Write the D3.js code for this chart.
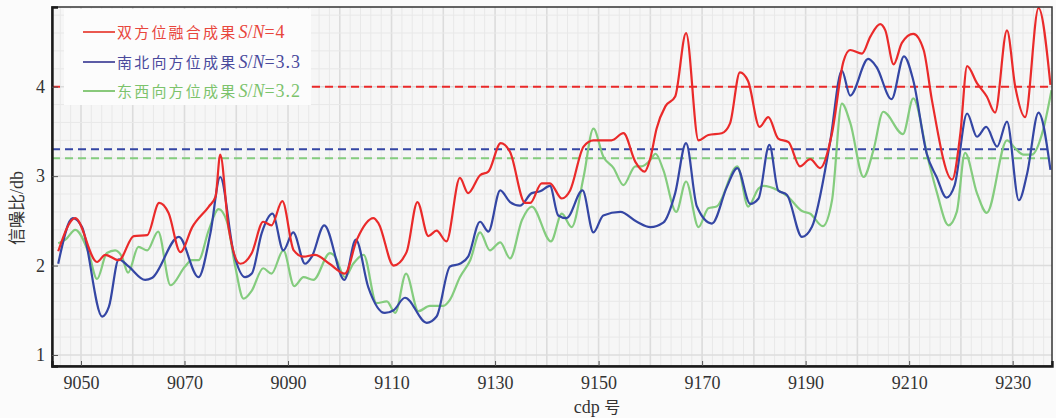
<!DOCTYPE html>
<html>
<head>
<meta charset="utf-8">
<script src="https://cdn.jsdelivr.net/npm/d3@7"></script>
<style>
  html, body { margin: 0; padding: 0; background: #fbfbfb; }
  svg { display: block; }
</style>
</head>
<body>
<svg id="chart" width="1056" height="418"></svg>
<script>
// Signal-to-noise ratio along the cdp line, three processing results
const redCdp = [9045.6,9048.9,9053.1,9054.7,9057.3,9060.2,9062.8,9065.1,9066.9,9069.2,9071.5,9074.7,9076.0,9076.9,9078.5,9080.8,9083.0,9085.2,9086.8,9088.9,9091.1,9093.0,9095.2,9098.0,9101.0,9103.3,9106.5,9107.5,9110.4,9112.9,9115.0,9117.1,9118.7,9120.6,9123.2,9124.8,9127.1,9128.7,9131.1,9132.9,9135.8,9136.8,9139.0,9140.6,9142.9,9144.5,9147.1,9149.0,9152.5,9154.8,9157.1,9158.9,9160.0,9161.2,9162.9,9164.8,9166.9,9169.3,9171.2,9173.8,9175.4,9177.3,9178.9,9181.1,9182.8,9184.7,9186.7,9188.9,9190.9,9192.8,9195.1,9197.3,9198.6,9200.9,9202.5,9204.4,9205.4,9207.0,9208.6,9210.8,9212.8,9214.4,9218.3,9219.9,9221.2,9223.1,9225.0,9226.6,9228.9,9230.5,9232.4,9235.0,9237.3];
const redSN = [2.16,2.53,2.04,2.12,2.06,2.33,2.34,2.70,2.59,2.15,2.43,2.66,2.77,3.24,2.43,2.02,2.14,2.49,2.45,2.72,2.17,2.10,2.12,2.02,1.91,2.29,2.53,2.47,2.00,2.15,2.71,2.33,2.39,2.27,2.98,2.81,3.01,3.05,3.37,3.27,2.70,2.70,2.92,2.92,2.75,2.84,3.33,3.40,3.40,3.48,3.16,3.05,3.20,3.53,3.78,3.89,4.60,3.40,3.46,3.48,3.59,4.16,4.06,3.55,3.66,3.42,3.38,3.11,3.19,3.09,3.48,4.28,4.41,4.37,4.56,4.70,4.63,4.25,4.49,4.59,4.41,3.85,2.96,3.48,4.23,4.04,3.89,3.71,4.63,4.00,3.66,4.88,4.02];

const blueCdp = [9045.6,9048.4,9050.2,9054.1,9055.4,9057.3,9059.2,9062.4,9063.7,9068.9,9072.7,9075.0,9076.9,9079.5,9081.7,9083.0,9084.9,9087.0,9089.1,9091.0,9093.3,9094.6,9097.0,9100.9,9103.1,9105.5,9108.7,9110.4,9112.6,9116.8,9118.7,9121.3,9123.2,9124.8,9127.1,9128.7,9131.0,9132.9,9134.8,9137.1,9138.7,9140.6,9142.2,9143.8,9146.9,9149.0,9150.9,9154.2,9157.4,9160.0,9162.5,9164.8,9166.9,9169.0,9171.9,9174.8,9176.8,9179.3,9180.9,9183.0,9184.7,9186.4,9189.3,9191.2,9194.7,9197.0,9198.6,9202.1,9203.7,9206.6,9209.0,9210.8,9213.4,9215.3,9217.2,9218.8,9221.2,9223.1,9224.9,9227.0,9228.9,9231.2,9232.8,9235.0,9237.3];
const blueSN = [2.02,2.53,2.43,1.43,1.54,2.07,1.99,1.84,1.86,2.32,1.87,2.36,2.99,2.14,1.87,1.91,2.36,2.58,2.17,2.37,2.02,2.10,2.45,1.84,2.29,1.76,1.47,1.50,1.64,1.36,1.43,1.99,2.02,2.10,2.49,2.38,2.84,2.71,2.67,2.81,2.83,2.89,2.56,2.53,2.84,2.37,2.56,2.60,2.49,2.43,2.48,2.81,3.37,2.66,2.47,2.88,3.09,2.69,2.75,3.35,2.84,2.79,2.32,2.43,3.37,4.18,3.90,4.31,4.22,3.86,4.34,4.07,3.25,2.99,2.76,2.90,3.70,3.44,3.55,3.33,3.61,2.73,3.03,3.71,3.07];

const greenCdp = [9045.6,9047.0,9048.9,9051.5,9053.1,9055.0,9056.6,9057.9,9059.1,9061.1,9062.8,9064.9,9067.3,9070.1,9071.4,9072.7,9074.7,9076.6,9078.2,9079.8,9081.4,9083.0,9085.2,9086.8,9089.1,9091.2,9093.0,9094.9,9098.1,9099.1,9101.0,9102.6,9104.6,9107.1,9109.1,9110.7,9112.8,9115.2,9117.4,9120.0,9121.3,9123.2,9125.2,9127.1,9129.0,9131.0,9132.9,9135.2,9137.1,9140.8,9142.9,9144.8,9147.1,9149.0,9150.9,9152.9,9154.8,9157.1,9158.3,9160.0,9161.0,9162.5,9165.0,9166.9,9169.3,9171.2,9172.8,9176.8,9178.9,9180.9,9181.8,9184.7,9186.4,9189.3,9190.9,9193.3,9195.1,9197.0,9198.6,9201.2,9203.1,9205.0,9208.8,9210.8,9213.7,9215.3,9217.6,9219.2,9220.8,9223.1,9225.0,9228.9,9230.5,9232.1,9233.7,9235.9,9237.5];
const greenSN = [2.25,2.29,2.40,2.14,1.85,2.14,2.17,2.10,1.92,2.21,2.17,2.38,1.78,1.99,2.06,2.06,2.40,2.63,2.49,1.99,1.63,1.72,1.97,1.91,2.17,1.77,1.87,1.84,2.14,2.10,1.87,2.02,2.12,1.58,1.60,1.47,1.91,1.49,1.55,1.55,1.62,1.87,2.06,2.37,2.17,2.26,2.08,2.51,2.66,2.27,2.58,2.43,2.99,3.53,3.22,3.09,2.90,3.11,3.11,3.18,3.25,3.07,2.60,2.94,2.43,2.64,2.66,3.11,2.66,2.86,2.89,2.84,2.78,2.61,2.58,2.44,2.73,3.81,3.60,2.99,3.29,3.72,3.47,3.87,3.18,2.83,2.45,2.60,3.26,2.81,2.59,3.40,3.31,3.24,3.24,3.52,3.96];

// Mean S/N of each result, shown as dashed reference lines
const meanSN = [4, 3.3, 3.2];
const seriesNames = ["双方位融合成果", "南北向方位成果", "东西向方位成果"];
const meanLabels = ["4", "3.3", "3.2"];
const seriesColors = ["#ea2a2a", "#3446a4", "#84cc7e"];
const legendColors = ["#e8463c", "#4a4a9c", "#7cc36c"];

const xTicks = [9050, 9070, 9090, 9110, 9130, 9150, 9170, 9190, 9210, 9230];
const yTicks = [1, 2, 3, 4];

const W = 1056, H = 418;
const margin = { left: 52, top: 7, right: 4, bottom: 52 };
const x = d3.scaleLinear().domain([9044.4, 9237.6]).range([margin.left, W - margin.right]);
const y = d3.scaleLinear().domain([0.877, 4.891]).range([H - margin.bottom, margin.top]);

const svg = d3.select("#chart");
const pw = W - margin.left - margin.right, ph = H - margin.top - margin.bottom;

svg.append("defs").append("clipPath").attr("id", "plotClip")
  .append("rect").attr("x", margin.left).attr("y", margin.top).attr("width", pw).attr("height", ph);

// plot background
svg.append("rect").attr("x", margin.left).attr("y", margin.top)
  .attr("width", pw).attr("height", ph).attr("fill", "#f6f6f6");

// grid: fine lines every 2 cdp / 0.2 dB, heavier every 10 cdp / 1 dB
const grid = svg.append("g").attr("clip-path", "url(#plotClip)");
const xMinor = d3.range(9046, 9238, 2);
grid.selectAll(".gx").data(xMinor).join("line")
  .attr("x1", d => x(d)).attr("x2", d => x(d))
  .attr("y1", margin.top).attr("y2", H - margin.bottom)
  .attr("stroke", d => d % 10 === 0 ? "#dcdcdc" : "#e8e8e8")
  .attr("stroke-width", d => d % 10 === 0 ? 1.6 : 1);
const yMinor = d3.range(10, 49, 2).map(v => v / 10);
grid.selectAll(".gy").data(yMinor).join("line")
  .attr("x1", margin.left).attr("x2", W - margin.right)
  .attr("y1", d => y(d)).attr("y2", d => y(d))
  .attr("stroke", d => Math.abs(d - Math.round(d)) < 1e-6 ? "#dcdcdc" : "#e8e8e8")
  .attr("stroke-width", d => Math.abs(d - Math.round(d)) < 1e-6 ? 1.6 : 1);

const plot = svg.append("g").attr("clip-path", "url(#plotClip)");

// dashed mean lines
plot.selectAll(".mean").data(meanSN).join("line")
  .attr("x1", margin.left).attr("x2", W - margin.right)
  .attr("y1", d => y(d)).attr("y2", d => y(d))
  .attr("stroke", (d, i) => seriesColors[i])
  .attr("stroke-width", 2)
  .attr("stroke-dasharray", "8,5");

// legend backdrop (covers grid and dashed lines beneath it)
svg.append("rect").attr("x", 64).attr("y", 9).attr("width", 247).attr("height", 96)
  .attr("fill", "#fcfcfc");

const line = d3.line()
  .x(d => x(d[0])).y(d => y(d[1]))
  .curve(d3.curveMonotoneX);

const series = [
  { c: greenCdp, v: greenSN, color: seriesColors[2] },
  { c: blueCdp, v: blueSN, color: seriesColors[1] },
  { c: redCdp, v: redSN, color: seriesColors[0] }
];
series.forEach(s => {
  plot.append("path")
    .datum(d3.zip(s.c, s.v))
    .attr("d", line)
    .attr("fill", "none")
    .attr("stroke", s.color)
    .attr("stroke-width", 2.2)
    .attr("stroke-linejoin", "round");
});

// frame
svg.append("rect").attr("x", margin.left).attr("y", margin.top)
  .attr("width", pw).attr("height", ph)
  .attr("fill", "none").attr("stroke", "#333").attr("stroke-width", 1.5);

// axes with inward ticks
const xAxis = d3.axisBottom(x).tickValues(xTicks).tickSize(-5).tickPadding(10).tickFormat(d3.format("d"));
const gx = svg.append("g").attr("transform", `translate(0,${H - margin.bottom})`).call(xAxis);
const yAxis = d3.axisLeft(y).tickValues(yTicks).tickSize(-6).tickPadding(7).tickFormat(d3.format("d"));
const gy = svg.append("g").attr("transform", `translate(${margin.left},0)`).call(yAxis);
[gx, gy].forEach(g => {
  g.select(".domain").attr("stroke", "#1a1a1a").attr("stroke-width", 2.4);
  g.selectAll(".tick line").attr("stroke", "#555").attr("stroke-width", 1);
  g.selectAll(".tick text")
    .attr("font-family", "'Liberation Serif', 'DejaVu Serif', serif")
    .attr("font-size", 18).attr("fill", "#333");
});

// axis titles
svg.append("text")
  .attr("x", 597).attr("y", 413)
  .attr("text-anchor", "middle")
  .attr("font-size", 18).attr("fill", "#333")
  .attr("font-family", "'Liberation Serif', serif")
  .text("cdp ")
  .append("tspan").attr("font-family", "'Noto Sans CJK SC', sans-serif").attr("font-size", 16).text("号");

svg.append("text")
  .attr("transform", "translate(23,208) rotate(-90)")
  .attr("text-anchor", "middle")
  .attr("font-size", 17).attr("fill", "#333")
  .attr("font-family", "'Noto Sans CJK SC', sans-serif")
  .text("信噪比")
  .append("tspan").attr("font-family", "'Liberation Serif', serif").attr("font-size", 18).text("/db");

// legend
const legendY = [32, 62, 91];
seriesNames.forEach((name, i) => {
  const g = svg.append("g");
  g.append("line").attr("x1", 83).attr("x2", 115)
    .attr("y1", legendY[i]).attr("y2", legendY[i])
    .attr("stroke", legendColors[i]).attr("stroke-width", 1.8);
  const t = g.append("text").attr("x", 117).attr("y", legendY[i] + 6)
    .attr("fill", legendColors[i]).attr("font-size", 15);
  t.append("tspan").attr("font-family", "'Noto Sans CJK SC', sans-serif")
    .attr("letter-spacing", 2.2).text(name);
  t.append("tspan").attr("font-family", "'Liberation Serif', serif")
    .attr("font-style", "italic").attr("font-size", 18).attr("dx", 1).text("S");
  t.append("tspan").attr("font-family", "'Liberation Serif', serif")
    .attr("font-size", 18).text("/");
  t.append("tspan").attr("font-family", "'Liberation Serif', serif")
    .attr("font-style", "italic").attr("font-size", 18).text("N");
  t.append("tspan").attr("font-family", "'Liberation Serif', serif")
    .attr("font-size", 18).attr("letter-spacing", 1).text("=" + meanLabels[i]);
});
</script>
</body>
</html>
